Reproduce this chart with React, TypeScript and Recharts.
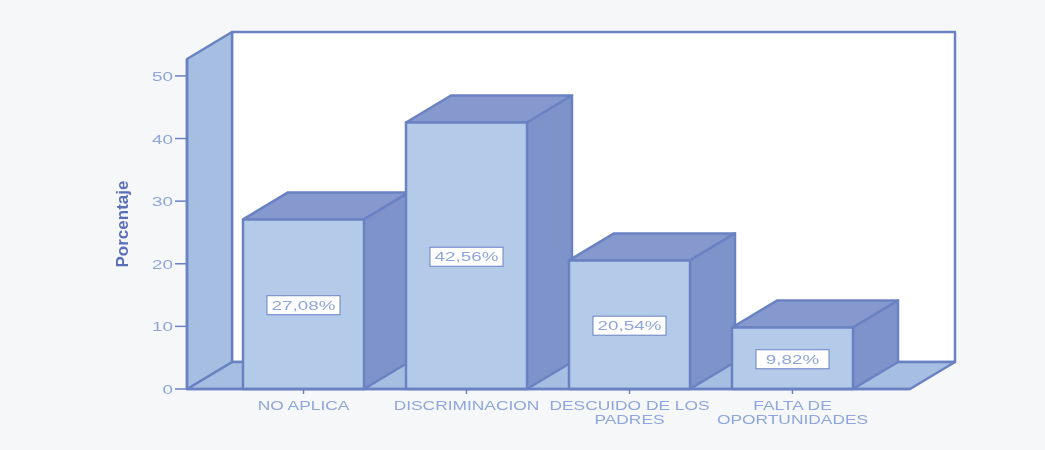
import React from "react";
import { BarChart, Bar, XAxis, YAxis, ReferenceArea, LabelList } from "recharts";

const categories = ["NO APLICA", "DISCRIMINACION", "DESCUIDO DE LOS\nPADRES", "FALTA DE\nOPORTUNIDADES"];
const percentages = [27.08, 42.56, 20.54, 9.82];
const yTicks = [0, 10, 20, 30, 40, 50];
const data = categories.map((name, i) => ({ name, value: percentages[i] }));

const DX = 45;
const DY = 27;
const PAD_L = 35;
const PAD_R = 36;
const LINE = "#6b82c2";
const FRONT = "#b3cae8";
const SIDE = "#7e93ca";
const TOP = "#8599cf";
const WALL = "#a5bee2";
const TEXT = "#8ea6dc";
const FONT = "'Liberation Sans', sans-serif";

const Walls = (p: any) => {
  const { x, y, width, height } = p;
  const l = x - PAD_L;
  const r = x + width + PAD_R;
  const b = y + height;
  return (
    <g stroke={LINE} strokeWidth={2.5} strokeLinejoin="round">
      <rect x={l + DX} y={y - DY} width={r - l} height={height} fill="#ffffff" />
      <polygon points={`${l},${b} ${l + DX},${b - DY} ${r + DX},${b - DY} ${r},${b}`} fill={WALL} />
      <polygon points={`${l},${y} ${l + DX},${y - DY} ${l + DX},${b - DY} ${l},${b}`} fill={WALL} />
    </g>
  );
};

const Box3D = (p: any) => {
  const { x, y, width, height } = p;
  const r = x + width;
  const b = y + height;
  return (
    <g stroke={LINE} strokeWidth={2.5} strokeLinejoin="round">
      <polygon points={`${x},${y} ${x + DX},${y - DY} ${r + DX},${y - DY} ${r},${y}`} fill={TOP} />
      <polygon points={`${r},${y} ${r + DX},${y - DY} ${r + DX},${b - DY} ${r},${b}`} fill={SIDE} />
      <rect x={x} y={y} width={width} height={height} fill={FRONT} />
    </g>
  );
};

const ValueBox = (p: any) => {
  const { x, y, width, height, value } = p;
  const cx = x + width / 2;
  const cy = y + height / 2 + 1;
  const w = 73;
  const h = 19;
  return (
    <g>
      <rect x={cx - w / 2} y={cy - h / 2} width={w} height={h} fill="#ffffff" stroke={LINE} strokeWidth={1} />
      <text
        transform={`translate(${cx},${cy + 4.5}) scale(1.45,1)`}
        textAnchor="middle"
        fontFamily={FONT}
        fontSize={13}
        fill={TEXT}
      >
        {`${value.toFixed(2).replace(".", ",")}%`}
      </text>
    </g>
  );
};

const XTick = (p: any) => {
  const { x, y, payload } = p;
  const lines = String(payload.value).split("\n");
  return (
    <g>
      {lines.map((line: string, i: number) => (
        <text
          key={line}
          transform={`translate(${x},${y + 14 + i * 14}) scale(1.39,1)`}
          textAnchor="middle"
          fontFamily={FONT}
          fontSize={12.5}
          fill={TEXT}
        >
          {line}
        </text>
      ))}
    </g>
  );
};

const YTick = (p: any) => {
  const { x, y, payload } = p;
  return (
    <text
      transform={`translate(${x},${y + 5}) scale(1.45,1)`}
      textAnchor="end"
      fontFamily={FONT}
      fontSize={13}
      fill={TEXT}
    >
      {payload.value}
    </text>
  );
};

export default function App() {
  return (
    <div
      style={{
        position: "absolute",
        left: 0,
        top: 0,
        width: 1045,
        height: 450,
        overflow: "hidden",
        background: "#f6f7f9",
      }}
    >
      <div style={{ filter: "blur(0.5px)" }}>
        <BarChart
          width={1045}
          height={450}
          data={data}
          margin={{ top: 59, right: 135, bottom: 0, left: 0 }}
          barSize={121}
        >
          <ReferenceArea y1={0} y2={52.7} shape={Walls} ifOverflow="visible" isFront={false} />
          <XAxis
            dataKey="name"
            height={61}
            interval={0}
            padding={{ left: PAD_L, right: PAD_R }}
            tick={XTick}
            tickSize={5}
            axisLine={{ stroke: LINE, strokeWidth: 2.5 }}
            tickLine={{ stroke: LINE, strokeWidth: 1.5 }}
          />
          <YAxis
            width={187}
            domain={[0, 52.7]}
            ticks={yTicks}
            tick={YTick}
            tickSize={12}
            axisLine={{ stroke: LINE, strokeWidth: 2.5 }}
            tickLine={{ stroke: LINE, strokeWidth: 1.5 }}
            label={{
              value: "Porcentaje",
              angle: -90,
              position: "center",
              dx: 28,
              dy: 0,
              style: { fontFamily: "'Liberation Sans', sans-serif", fontWeight: 700, fontSize: 17, fill: "#5a6fb8" },
            }}
          />
          <Bar dataKey="value" shape={Box3D} isAnimationActive={false}>
            <LabelList dataKey="value" content={ValueBox} />
          </Bar>
        </BarChart>
      </div>
    </div>
  );
}
